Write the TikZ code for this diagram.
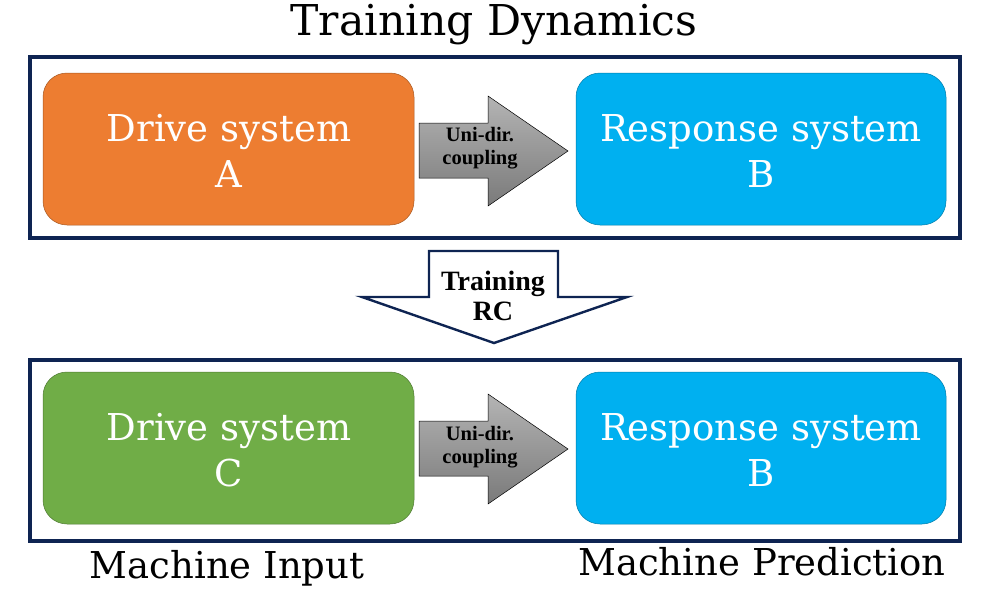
\documentclass[tikz,border=0pt]{standalone}
\usepackage{fontspec}
\setmainfont{DejaVu Serif}
\newfontfamily\arrowfont{Liberation Serif}
\definecolor{navy}{HTML}{0E2452}
\definecolor{orangebox}{HTML}{ED7D31}
\definecolor{bluebox}{HTML}{00B0F0}
\definecolor{greenbox}{HTML}{70AD47}
\definecolor{gtop}{HTML}{B4B4B4}
\definecolor{gbot}{HTML}{7A7A7A}
\begin{document}
\begin{tikzpicture}[x=1pt,y=-1pt,
  frame/.style={draw=navy,line width=3.2pt},
  sysbox/.style={rounded corners=24pt,draw=#1!70!black,line width=0.5pt,fill=#1},
  boxtext/.style={text=white,font=\fontsize{37}{46}\selectfont,align=center},
  garrow/.style={draw=black,line width=0.5pt,top color=gtop,bottom color=gbot},
  arrtext/.style={font=\arrowfont\bfseries\fontsize{20.5}{23}\selectfont,align=center},
  label/.style={font=\fontsize{37}{44}\selectfont}]
\useasboundingbox (0,0) rectangle (994,598);
\node[label,font=\fontsize{42.5}{48}\selectfont] (title) at (494,25) {Training Dynamics};
% top frame
\draw[frame] (30,57) rectangle (960,238);
\draw[sysbox=orangebox] (43,73) rectangle (414,225);
\node[boxtext] (A) at (229,151) {Drive system\\A};
\draw[sysbox=bluebox] (576,73) rectangle (946,225);
\node[boxtext] (B1) at (761,151) {Response system\\B};
\draw[garrow] (419,123) -- (488,123) -- (488,96) -- (568,151) -- (488,206) -- (488,178) -- (419,178) -- cycle;
\node[arrtext] (c1) at (480,148) {Uni-dir.\\coupling};
% training arrow
\draw[draw=navy,line width=2.4pt,fill=white,line join=miter] (429,251) -- (558,251) -- (558,297) -- (627,297) -- (494,343) -- (362,297) -- (429,297) -- cycle;
\node[arrtext,font=\arrowfont\bfseries\fontsize{28}{30}\selectfont] (rc) at (493,296) {Training\\RC};
% bottom frame
\draw[frame] (30,360) rectangle (960,541);
\draw[sysbox=greenbox] (43,372) rectangle (414,524);
\node[boxtext] (C) at (229,450) {Drive system\\C};
\draw[sysbox=bluebox] (576,372) rectangle (946,524);
\node[boxtext] (B2) at (761,450) {Response system\\B};
\draw[garrow] (419,421) -- (488,421) -- (488,394) -- (568,449) -- (488,504) -- (488,476) -- (419,476) -- cycle;
\node[arrtext] (c2) at (480,447) {Uni-dir.\\coupling};
\node[label] (mi) at (227,568) {Machine Input};
\node[label] (mp) at (762,562) {Machine Prediction};
\end{tikzpicture}
\end{document}
